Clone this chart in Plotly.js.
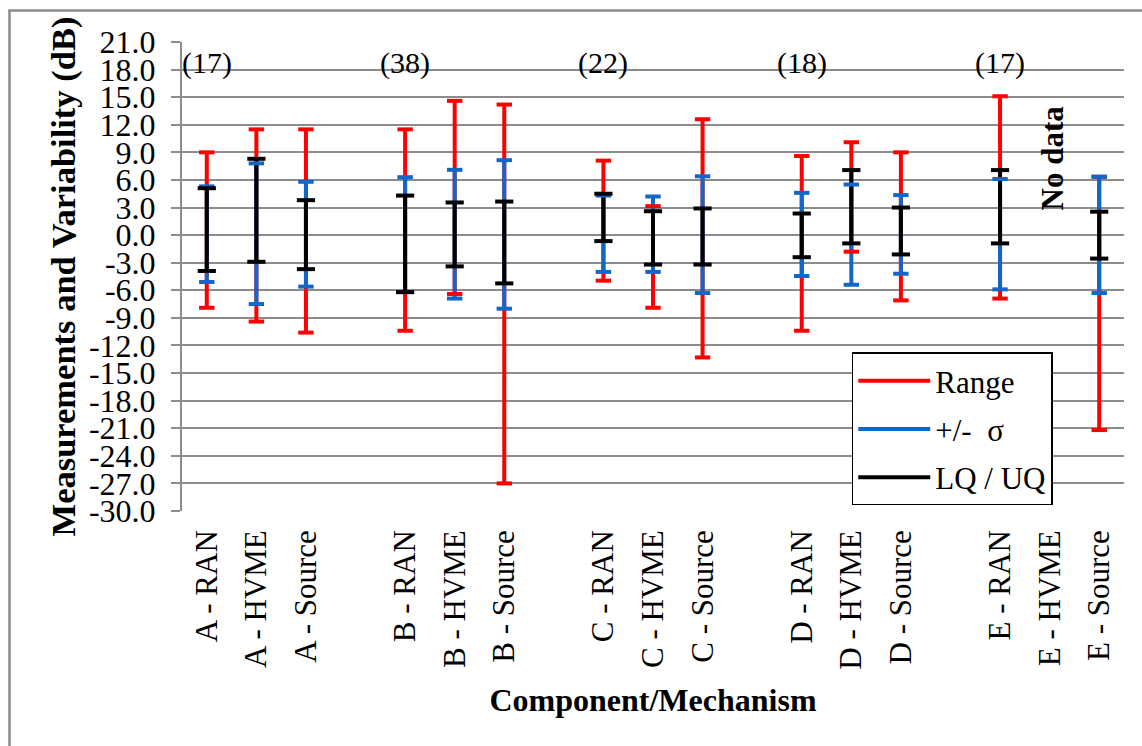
<!DOCTYPE html>
<html>
<head>
<meta charset="utf-8">
<script src="https://cdn.plot.ly/plotly-3.0.1.min.js"></script>
<style>
  html, body { margin: 0; padding: 0; background: #ffffff; }
  #chart { width: 1142px; height: 746px; }
</style>
</head>
<body>
<div id="chart"></div>
<script>
// ---------------- DATA ----------------
const groups = ["A", "B", "C", "D", "E"];
const mechanisms = ["RAN", "HVME", "Source"];
const groupCounts = ["(17)", "(38)", "(22)", "(18)", "(17)"];

// one entry per component/mechanism, in order A-RAN, A-HVME, A-Source, B-RAN, ...
const rangeMin = [-7.9, -9.4, -10.6,  -10.4, -6.4, -27.0,  -4.95, -7.9, -13.3,  -10.4, -1.8, -7.1,  -6.9, null, -21.2];
const rangeMax = [ 9.0, 11.5,  11.5,   11.5, 14.6,  14.2,   8.1,  3.15, 12.6,    8.6, 10.1,  9.0,  15.1, null,  6.35];
const sigmaMin = [-5.1, -7.5,  -5.6,   -6.2, -6.9,  -8.0,  -4.0, -4.0,  -6.3,   -4.45, -5.4, -4.2,  -5.9, null,  -6.3];
const sigmaMax = [ 5.3,  7.8,   5.8,    6.3,  7.1,   8.15,  4.3,  4.2,   6.4,    4.6,  5.5,  4.35,  6.1, null,   6.35];
const lowerQ   = [-3.9, -2.9,  -3.7,   -6.2, -3.4,  -5.25, -0.65, -3.2, -3.2,   -2.4, -0.9, -2.1,  -0.9, null,  -2.55];
const upperQ   = [ 5.1,  8.3,   3.8,    4.3,  3.55,  3.65,  4.5,  2.6,   2.9,    2.35, 7.07, 3.0,   7.07, null,  2.55];

const yTickValues = [21, 18, 15, 12, 9, 6, 3, 0, -3, -6, -9, -12, -15, -18, -21, -24, -27, -30];
const noDataLabel = "No data";

// ---------------- BUILD ----------------
const categories = [];
const dataCats = [];
groups.forEach((g, gi) => {
  mechanisms.forEach(m => { const c = g + " - " + m; categories.push(c); dataCats.push(c); });
  if (gi < groups.length - 1) categories.push(" ".repeat(gi + 1));
});

const RED = "#ff0000", BLUE = "#1166c8", BLACK = "#000000", GRID = "#8c8c8c";
const FONT = "'Liberation Serif', 'Times New Roman', serif";

function segTrace(name, lo, hi, color) {
  const x = [], y = [];
  dataCats.forEach((c, i) => {
    if (lo[i] === null || hi[i] === null) return;
    x.push(c, c, null); y.push(lo[i], hi[i], null);
  });
  return { type: "scatter", mode: "lines", name: name, x: x, y: y,
           line: { color: color, width: 4 }, connectgaps: false,
           legendgroup: name, hoverinfo: "skip" };
}
function capTrace(lo, hi, color, size) {
  const x = [], y = [];
  dataCats.forEach((c, i) => {
    if (lo[i] === null || hi[i] === null) return;
    x.push(c, c); y.push(lo[i], hi[i]);
  });
  return { type: "scatter", mode: "markers", x: x, y: y, showlegend: false, hoverinfo: "skip",
           marker: { symbol: "line-ew", size: size, color: color, line: { color: color, width: 4 } } };
}

const traces = [
  { type: "scatter", mode: "markers", x: categories, y: categories.map(() => null),
    showlegend: false, hoverinfo: "skip" },
  segTrace("Range", rangeMin, rangeMax, RED),
  segTrace("+/-  σ", sigmaMin, sigmaMax, BLUE),
  segTrace("LQ / UQ", lowerQ, upperQ, BLACK),
  capTrace(rangeMin, rangeMax, RED, 11),
  capTrace(sigmaMin, sigmaMax, BLUE, 11),
  capTrace(lowerQ, upperQ, BLACK, 13)
];

const annotations = groups.map((g, gi) => ({
  x: g + " - " + mechanisms[0], y: 18.7, xref: "x", yref: "y",
  text: groupCounts[gi], showarrow: false,
  font: { family: FONT, size: 30, color: "#000" }
}));
annotations.push({
  x: "E - HVME", y: 8.4, xref: "x", yref: "y", xshift: 3, text: "<b>" + noDataLabel + "</b>",
  textangle: -90, showarrow: false, font: { family: FONT, size: 31, color: "#000" }
});

const nCat = categories.length;
const boundaries = [];
for (let i = 0; i <= nCat; i++) boundaries.push(i - 0.5);

const layout = {
  width: 1142, height: 746,
  margin: { l: 182, r: 18, t: 42, b: 235 },
  paper_bgcolor: "#ffffff", plot_bgcolor: "#ffffff",
  font: { family: FONT, size: 30, color: "#000" },
  showlegend: true,
  legend: {
    x: 0.711, y: 0.338, xanchor: "left", yanchor: "top",
    bgcolor: "#ffffff", bordercolor: "#000000", borderwidth: 1.5,
    font: { family: FONT, size: 31, color: "#000" },
    tracegroupgap: 5, itemwidth: 72, traceorder: "grouped"
  },
  xaxis: {
    type: "category", categoryorder: "array", categoryarray: categories,
    range: [-0.5, nCat - 0.5], showgrid: false, zeroline: false, showline: false,
    ticks: "", tickangle: -90, ticklabelstandoff: 12,
    tickfont: { family: FONT, size: 31, color: "#000" },
    title: { text: "<b>Component/Mechanism</b>", font: { family: FONT, size: 32, color: "#000" }, standoff: 19 },
    automargin: false, fixedrange: true
  },
  xaxis2: {
    overlaying: "x", anchor: "free", position: 30 / 51, side: "bottom",
    range: [-0.5, nCat - 0.5], tickmode: "array", tickvals: boundaries,
    ticks: "outside", ticklen: 8, tickwidth: 2, tickcolor: GRID,
    showline: true, linecolor: GRID, linewidth: 2, showgrid: false,
    showticklabels: false, zeroline: false, fixedrange: true
  },
  yaxis: {
    range: [-30, 21], tickmode: "array", tickvals: yTickValues,
    ticktext: yTickValues.map(v => v.toFixed(1)),
    showgrid: true, gridcolor: GRID, gridwidth: 2, zeroline: false,
    showline: true, linecolor: GRID, linewidth: 2,
    ticks: "outside", ticklen: 9, tickwidth: 2, tickcolor: GRID,
    ticklabelstandoff: 9,
    tickfont: { family: FONT, size: 32, color: "#000" },
    title: { text: "<b>Measurements and Variability (dB)</b>", font: { family: FONT, size: 34.5, color: "#000" }, standoff: 3 },
    automargin: false, fixedrange: true
  },
  annotations: annotations,
  shapes: [{
    type: "rect", xref: "paper", yref: "paper",
    x0: (9.5 - 182) / 942, x1: (1170 - 182) / 942,
    y0: (511 - 780) / 469, y1: (511 - 10.5) / 469,
    line: { color: GRID, width: 2.5 }, fillcolor: "rgba(0,0,0,0)", layer: "below"
  }]
};

Plotly.newPlot("chart", traces, layout, { displayModeBar: false, staticPlot: true });
</script>
</body>
</html>
